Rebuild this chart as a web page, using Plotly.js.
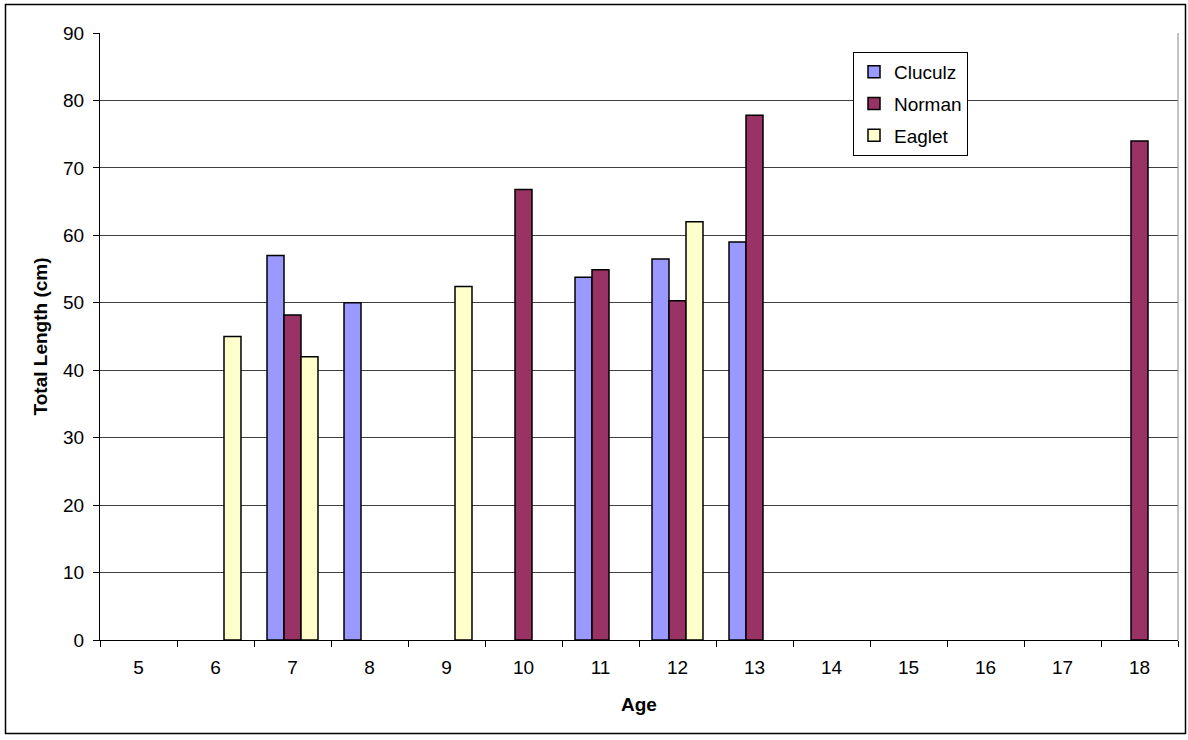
<!DOCTYPE html>
<html>
<head>
<meta charset="utf-8">
<script src="https://cdn.plot.ly/plotly-3.0.1.min.js"></script>
<style>
  html, body { margin: 0; padding: 0; background: #fff; }
  #chart { width: 1188px; height: 740px; }
</style>
</head>
<body>
<div id="chart"></div>
<script>
// Ages on the category axis
const ages = ['5', '6', '7', '8', '9', '10', '11', '12', '13', '14', '15', '16', '17', '18'];

// Total length (cm) per age; null where no fish was measured
const cluculz = [null, null, 57, 50, null, null, 53.8, 56.5, 59, null, null, null, null, null];
const norman  = [null, null, 48.2, null, null, 66.8, 54.9, 50.3, 77.8, null, null, null, null, 74];
const eaglet  = [null, 45, 42, null, 52.4, null, null, 62, null, null, null, null, null, null];

const seriesNames = ['Cluculz', 'Norman', 'Eaglet'];
const seriesColors = ['#9999FF', '#993366', '#FFFFCC'];
const seriesValues = [cluculz, norman, eaglet];

const font = { family: 'Liberation Sans, Arial, sans-serif', color: '#000' };
const fs = 19;

const traces = seriesValues.map((vals, i) => ({
  type: 'bar',
  name: seriesNames[i],
  legendgroup: seriesNames[i],
  x: ages,
  y: vals,
  marker: { color: seriesColors[i], line: { color: '#000', width: 1.5 } },
  hoverinfo: 'x+y+name'
}));

// Plot-area geometry in pixels, used to place the outer frame in paper units
const W = 1188, H = 740, L = 100, R = 10, T = 33, B = 100;
const pw = W - L - R, ph = H - T - B;
const px = v => (v - L) / pw;
const py = v => (H - B - v) / ph;

const layout = {
  width: W,
  height: H,
  margin: { l: L, r: R, t: T, b: B, pad: 0 },
  paper_bgcolor: '#fff',
  plot_bgcolor: '#fff',
  font: Object.assign({ size: fs }, font),
  barmode: 'group',
  bargap: 0.338,
  bargroupgap: 0,
  showlegend: true,
  legend: {
    x: px(968), y: py(52), xanchor: 'right', yanchor: 'top',
    bgcolor: '#fff', bordercolor: '#000', borderwidth: 1,
    font: Object.assign({ size: fs }, font),
    tracegroupgap: 4,
    itemwidth: 30
  },
  xaxis: {
    type: 'category',
    tickson: 'boundaries',
    ticks: 'outside', ticklen: 6, tickcolor: '#000', tickwidth: 1,
    ticklabelstandoff: 10,
    showline: true, linecolor: '#000', linewidth: 1,
    showgrid: false, zeroline: false,
    tickfont: Object.assign({ size: fs }, font),
    title: { text: '<b>Age</b>', font: Object.assign({ size: fs }, font), standoff: 20 },
    fixedrange: true
  },
  yaxis: {
    range: [0, 90],
    dtick: 10,
    ticks: 'outside', ticklen: 6, tickcolor: '#000', tickwidth: 1,
    ticklabelstandoff: 5,
    showline: true, linecolor: '#000', linewidth: 1,
    showgrid: true, gridcolor: '#404040', gridwidth: 1,
    zeroline: false,
    tickfont: Object.assign({ size: fs }, font),
    title: { text: '<b>Total Length (cm)</b>', font: Object.assign({ size: fs }, font), standoff: 10 },
    fixedrange: true
  },
  shapes: [
    // plot-area border on the right side
    { type: 'line', xref: 'paper', yref: 'paper', x0: 1, x1: 1, y0: 0, y1: 1,
      line: { color: '#888', width: 1 } },
    // chart frame
    { type: 'rect', xref: 'paper', yref: 'paper',
      x0: px(5.5), x1: px(1185.5), y0: py(733.5), y1: py(4.5),
      line: { color: '#000', width: 1.5 }, fillcolor: 'rgba(0,0,0,0)' }
  ]
};

Plotly.newPlot('chart', traces, layout, { displayModeBar: false, staticPlot: true });
</script>
</body>
</html>
